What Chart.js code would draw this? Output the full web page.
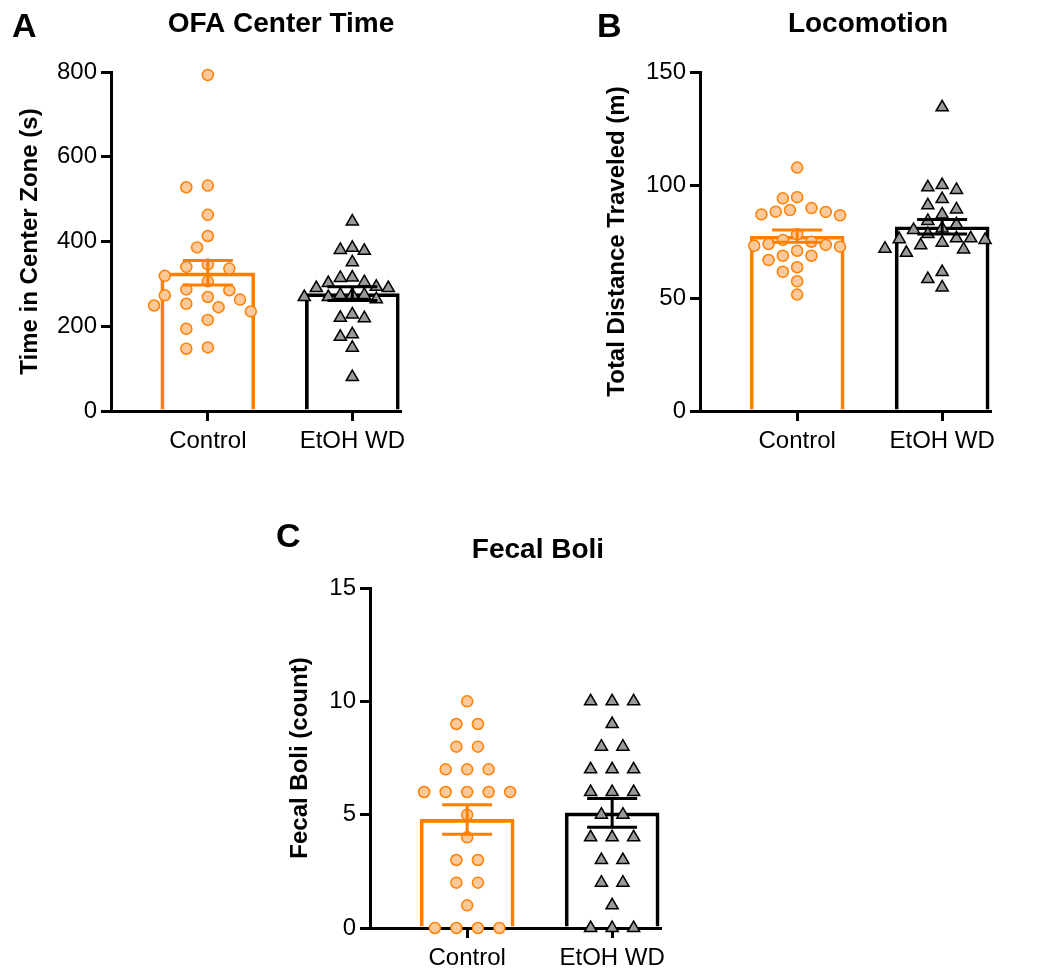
<!DOCTYPE html>
<html>
<head>
<meta charset="utf-8">
<script src="https://cdn.jsdelivr.net/npm/chart.js@4.4.1/dist/chart.umd.min.js"></script>
<style>
  body { margin: 0; background: #fff; width: 1050px; height: 980px; position: relative; overflow: hidden; }
  canvas { position: absolute; }
</style>
</head>
<body>
<canvas id="chartA" width="450" height="480" style="left:0;top:0"></canvas>
<canvas id="chartB" width="460" height="480" style="left:590px;top:0"></canvas>
<canvas id="chartC" width="430" height="470" style="left:270px;top:510px"></canvas>
<script>
// ── data ─────────────────────────────────────────────
const groups = ['Control', 'EtOH WD'];

const centerTimeControl = [793, 532, 528, 463, 413, 386, 346, 340, 336, 319, 306, 287,
  285, 273, 269, 263, 253, 249, 245, 235, 215, 194, 147, 150];
const centerTimeEtoh = [447, 385, 380, 378, 351, 315, 314, 304, 302, 293, 290, 290, 274,
  274, 274, 269, 269, 264, 228, 220, 219, 181, 175, 149, 80];
const centerTimeTicks = [0, 200, 400, 600, 800];

const distanceControl = [107.7, 94.6, 94.1, 88.2, 88.1, 88.9, 89.8, 86.6, 87.0, 78.2, 75.7,
  72.7, 73.5, 73.9, 74.9, 70.9, 73.1, 68.7, 68.7, 66.8, 63.6, 61.6, 57.4, 51.5];
const distanceEtoh = [134.4, 99.0, 97.8, 100.0, 93.8, 91.0, 89.2, 87.0, 84.1, 82.6, 80.8,
  80.1, 78.3, 75.7, 76.4, 76.4, 76.0, 74.5, 71.5, 71.8, 73.3, 70.0, 61.5, 58.4, 54.7];
const distanceTicks = [0, 50, 100, 150];

const boliControl = [10, 9, 9, 8, 8, 7, 7, 7, 6, 6, 6, 6, 6, 5, 4, 3, 3, 2, 2, 1, 0, 0, 0, 0];
const boliEtoh = [10, 10, 10, 9, 8, 8, 7, 7, 7, 6, 6, 6, 5, 5, 4, 4, 4, 3, 3, 2, 2, 1, 0, 0, 0];
const boliTicks = [0, 5, 10, 15];

// ── styling ──────────────────────────────────────────
const COLORS = {
  orange: '#FF7F00',
  orangeFill: '#FDC99A',
  black: '#000000',
  grey: '#9A9A9A',
};
const FONT = 'Arial, "Liberation Sans", Helvetica, sans-serif';
const X_MIN = -0.67, X_MAX = 1.33;

const mean = a => a.reduce((s, v) => s + v, 0) / a.length;
const sem = a => {
  const m = mean(a);
  const sd = Math.sqrt(a.reduce((s, v) => s + (v - m) ** 2, 0) / (a.length - 1));
  return sd / Math.sqrt(a.length);
};

// simple beeswarm: returns horizontal offsets in pixels
function swarm(values, pxPerY, step, minDist, centreTies) {
  const order = values.map((v, i) => i).sort((a, b) => values[b] - values[a]);
  const placed = [];
  const xs = new Array(values.length).fill(0);
  order.forEach(i => {
    const y = values[i] * pxPerY;
    for (let k = 0; k < 60; k++) {
      const m = k === 0 ? 0 : (k % 2 ? -Math.ceil(k / 2) : k / 2);
      const x = m * step;
      if (placed.every(p => Math.hypot(p.x - x, p.y - y) >= minDist)) {
        placed.push({ x, y, i });
        xs[i] = x;
        break;
      }
    }
  });
  if (centreTies) {
    const rows = {};
    placed.forEach(p => { (rows[values[p.i]] = rows[values[p.i]] || []).push(p); });
    Object.values(rows).forEach(row => {
      const shift = -row.reduce((s, p) => s + p.x, 0) / row.length;
      row.forEach(p => { xs[p.i] += shift; });
    });
  }
  return xs;
}

const panelText = {
  id: 'panelText',
  afterDraw(chart, args, opts) {
    const ctx = chart.ctx;
    ctx.save();
    ctx.fillStyle = '#000';
    ctx.textBaseline = 'alphabetic';
    ctx.font = 'bold 28px ' + FONT;
    ctx.textAlign = 'center';
    ctx.fillText(opts.title, opts.titleX, opts.titleY);
    ctx.font = 'bold 34px ' + FONT;
    ctx.textAlign = 'left';
    ctx.fillText(opts.letter, opts.letterX, opts.letterY);
    ctx.restore();
  }
};

const errorBars = {
  id: 'errorBars',
  afterDatasetsDraw(chart, args, opts) {
    const ctx = chart.ctx;
    const xs = chart.scales.x, ys = chart.scales.y;
    ctx.save();
    ctx.lineWidth = 3;
    opts.means.forEach((m, g) => {
      const x = xs.getPixelForValue(g);
      const top = ys.getPixelForValue(m + opts.sems[g]);
      const bot = ys.getPixelForValue(m - opts.sems[g]);
      ctx.strokeStyle = opts.colors[g];
      ctx.beginPath();
      ctx.moveTo(x, top); ctx.lineTo(x, bot);
      ctx.moveTo(x - 25, top); ctx.lineTo(x + 25, top);
      ctx.moveTo(x - 25, bot); ctx.lineTo(x + 25, bot);
      ctx.stroke();
    });
    ctx.restore();
  }
};

function makePanel(cfg) {
  const canvas = document.getElementById(cfg.id);
  const W = canvas.width, H = canvas.height;
  const area = cfg.area;
  const yMax = cfg.ticks[cfg.ticks.length - 1];
  const pxPerY = (area.bottom - area.top) / yMax;
  const pxPerX = (area.right - area.left) / (X_MAX - X_MIN);
  const means = [mean(cfg.ctrl), mean(cfg.etoh)];
  const sems = [sem(cfg.ctrl), sem(cfg.etoh)];
  const offC = swarm(cfg.ctrl, pxPerY, cfg.ctrlStep, cfg.ctrlDist, cfg.ties);
  const offE = swarm(cfg.etoh, pxPerY, cfg.etohStep, cfg.etohDist, cfg.ties);

  const axisGrid = { display: true, drawOnChartArea: false, drawTicks: true, offset: false,
    tickLength: 10, lineWidth: 3, color: COLORS.black };

  return new Chart(canvas, {
    type: 'bar',
    data: {
      datasets: [
        {
          type: 'scatter',
          data: cfg.ctrl.map((v, i) => ({ x: 0 + offC[i] / pxPerX, y: v })),
          pointStyle: 'circle',
          pointRadius: 5.5,
          pointBorderWidth: 1.5,
          pointBackgroundColor: COLORS.orangeFill,
          pointBorderColor: COLORS.orange,
          clip: false,
          order: 1,
        },
        {
          type: 'scatter',
          data: cfg.etoh.map((v, i) => ({ x: 1 + offE[i] / pxPerX, y: v })),
          pointStyle: 'triangle',
          pointRadius: 7,
          pointBorderWidth: 1.5,
          pointBackgroundColor: COLORS.grey,
          pointBorderColor: COLORS.black,
          clip: false,
          order: 1,
        },
        {
          type: 'bar',
          data: means.map((m, g) => ({ x: g, y: m })),
          backgroundColor: 'rgba(255,255,255,0)',
          borderColor: [COLORS.orange, COLORS.black],
          borderWidth: 3,
          barThickness: 94,
          grouped: false,
          order: 2,
        },
      ]
    },
    options: {
      responsive: false,
      animation: false,
      events: [],
      layout: { padding: { left: 0, top: area.top, right: W - area.right, bottom: 0 } },
      plugins: {
        legend: { display: false },
        tooltip: { enabled: false },
        panelText: cfg.text,
        errorBars: { means, sems, colors: [COLORS.orange, COLORS.black] },
      },
      scales: {
        x: {
          type: 'linear',
          min: X_MIN,
          max: X_MAX,
          offset: false,
          afterBuildTicks: s => { s.ticks = groups.map((g, i) => ({ value: i })); },
          afterFit: s => { s.height = H - area.bottom; },
          ticks: {
            callback: v => groups[v],
            color: COLORS.black,
            font: { family: FONT, size: 24 },
            padding: 6,
            maxRotation: 0,
            autoSkip: false,
          },
          grid: axisGrid,
          border: { display: true, width: 3, color: COLORS.black },
        },
        y: {
          min: 0,
          max: yMax,
          afterBuildTicks: s => { s.ticks = cfg.ticks.map(v => ({ value: v })); },
          afterFit: s => { s.width = area.left; },
          ticks: {
            color: COLORS.black,
            font: { family: FONT, size: 24 },
            padding: 4,
          },
          grid: axisGrid,
          border: { display: true, width: 3, color: COLORS.black },
          title: {
            display: true,
            text: cfg.yLabel,
            color: COLORS.black,
            font: { family: FONT, size: 24, weight: 'bold' },
            padding: { top: cfg.labelPad, bottom: 0 },
          },
        },
      },
    },
    plugins: [panelText, errorBars],
  });
}

makePanel({
  id: 'chartA',
  area: { left: 111, top: 72, right: 400, bottom: 411 },
  ctrl: centerTimeControl, etoh: centerTimeEtoh, ticks: centerTimeTicks,
  yLabel: 'Time in Center Zone (s)', labelPad: 16,
  ctrlStep: 10.75, ctrlDist: 14, etohStep: 6, etohDist: 12, ties: false,
  text: { title: 'OFA Center Time', titleX: 281, titleY: 32, letter: 'A', letterX: 12, letterY: 37 },
});

makePanel({
  id: 'chartB',
  area: { left: 110, top: 72, right: 400, bottom: 411 },
  ctrl: distanceControl, etoh: distanceEtoh, ticks: distanceTicks,
  yLabel: 'Total Distance Traveled (m)', labelPad: 13,
  ctrlStep: 7.15, ctrlDist: 13, etohStep: 7.15, etohDist: 13, ties: false,
  text: { title: 'Locomotion', titleX: 278, titleY: 32, letter: 'B', letterX: 7, letterY: 37 },
});

makePanel({
  id: 'chartC',
  area: { left: 100, top: 78, right: 390, bottom: 418 },
  ctrl: boliControl, etoh: boliEtoh, ticks: boliTicks,
  yLabel: 'Fecal Boli (count)', labelPad: 16,
  ctrlStep: 10.75, ctrlDist: 20, etohStep: 10.75, etohDist: 20, ties: true,
  text: { title: 'Fecal Boli', titleX: 268, titleY: 48, letter: 'C', letterX: 6, letterY: 37 },
});
</script>
</body>
</html>
